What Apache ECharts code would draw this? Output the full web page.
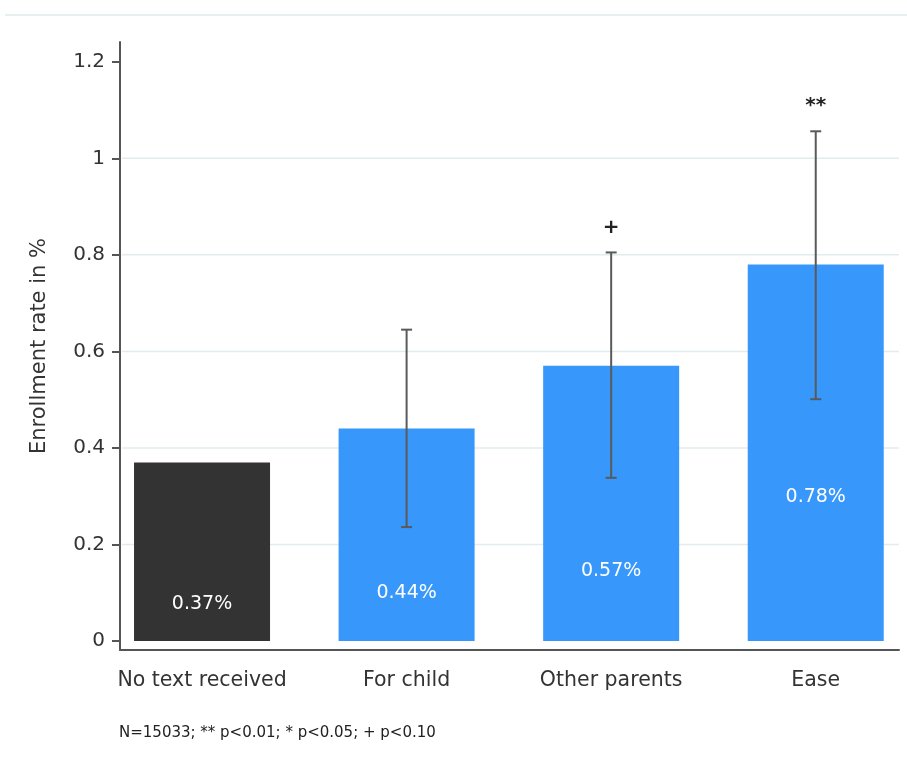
<!DOCTYPE html>
<html>
<head>
<meta charset="utf-8">
<script src="https://cdn.jsdelivr.net/npm/echarts@6/dist/echarts.min.js"></script>
<style>
  html, body { margin: 0; padding: 0; background: #ffffff; }
  #chart { width: 907px; height: 765px; }
</style>
</head>
<body>
<div id="chart"></div>
<script>
// Enrollment rate by text-message treatment, with 95% confidence intervals
const categories = ['No text received', 'For child', 'Other parents', 'Ease'];
const rates = [0.37, 0.44, 0.57, 0.78];
const ciLow = [null, 0.236, 0.338, 0.501];
const ciHigh = [null, 0.645, 0.805, 1.056];
const significance = ['', '', '+', '**'];
const yTicks = [0, 0.2, 0.4, 0.6, 0.8, 1, 1.2];
const gridValues = [0.2, 0.4, 0.6, 0.8, 1];
const yAxisTitle = 'Enrollment rate in %';
const note = 'N=15033; ** p<0.01; * p<0.05; + p<0.10';

// height (in axis units) where each in-bar value label sits
const valueLabelAt = [0.077, 0.1, 0.145, 0.298];

const FONT = '"DejaVu Sans", sans-serif';
const AXIS_COLOR = '#555555';
const TEXT_COLOR = '#333333';
const barColors = ['#333333', '#3797fb', '#3797fb', '#3797fb'];

const chart = echarts.init(document.getElementById('chart'), null, { renderer: 'canvas' });

const option = {
  backgroundColor: '#ffffff',
  animation: false,
  grid: { left: 120, right: 8, top: 42, bottom: 115, containLabel: false },
  xAxis: {
    type: 'value',
    min: -0.401,
    max: 3.407,
    axisLine: { show: true, onZero: false, lineStyle: { color: AXIS_COLOR, width: 2 } },
    axisTick: { show: false },
    splitLine: { show: false },
    axisLabel: {
      customValues: categories.map((_, i) => i),
      formatter: v => categories[v] || '',
      color: TEXT_COLOR,
      fontFamily: FONT,
      fontSize: 20.5,
      margin: 20
    }
  },
  yAxis: {
    type: 'value',
    min: -0.0187,
    max: 1.241,
    name: yAxisTitle,
    nameLocation: 'middle',
    nameRotate: 90,
    nameGap: 70,
    nameTextStyle: { color: TEXT_COLOR, fontFamily: FONT, fontSize: 21 },
    axisLine: { show: true, onZero: false, lineStyle: { color: AXIS_COLOR, width: 2 } },
    axisTick: { show: true, customValues: yTicks, length: 8, lineStyle: { color: AXIS_COLOR, width: 2 } },
    splitLine: { show: false },
    axisLabel: {
      customValues: yTicks,
      formatter: v => String(v),
      color: TEXT_COLOR,
      fontFamily: FONT,
      fontSize: 20,
      margin: 15
    }
  },
  series: [
    {
      // horizontal reference lines behind the bars
      type: 'custom',
      z: 1,
      silent: true,
      data: gridValues.map(v => [0, v]),
      renderItem: (params, api) => {
        const cs = params.coordSys;
        const y = api.coord([0, api.value(1)])[1];
        return {
          type: 'line',
          shape: { x1: cs.x + 2, y1: y, x2: cs.x + cs.width, y2: y },
          style: { stroke: '#e2ecee', lineWidth: 1.5 }
        };
      }
    },
    {
      type: 'bar',
      z: 2,
      barWidth: 136,
      data: rates.map((v, i) => ({ value: [i, v], itemStyle: { color: barColors[i] } }))
    },
    {
      // value labels inside the bars
      type: 'custom',
      z: 3,
      silent: true,
      data: rates.map((v, i) => [i, valueLabelAt[i], v]),
      renderItem: (params, api) => {
        const p = api.coord([api.value(0), api.value(1)]);
        return {
          type: 'text',
          style: {
            text: api.value(2).toFixed(2) + '%',
            x: p[0], y: p[1],
            align: 'center', verticalAlign: 'middle',
            fill: '#ffffff',
            font: '19px ' + FONT
          }
        };
      }
    },
    {
      // confidence interval whiskers and significance markers
      type: 'custom',
      z: 4,
      silent: true,
      data: categories.map((_, i) => i).filter(i => ciLow[i] != null)
        .map(i => [i, ciLow[i], ciHigh[i]]),
      renderItem: (params, api) => {
        const i = api.value(0);
        const lo = api.coord([i, api.value(1)]);
        const hi = api.coord([i, api.value(2)]);
        const cap = 5.5;
        const stroke = { stroke: '#5a5a5a', lineWidth: 2 };
        const children = [
          { type: 'line', shape: { x1: lo[0], y1: lo[1], x2: hi[0], y2: hi[1] }, style: stroke },
          { type: 'line', shape: { x1: lo[0] - cap, y1: lo[1], x2: lo[0] + cap, y2: lo[1] }, style: stroke },
          { type: 'line', shape: { x1: hi[0] - cap, y1: hi[1], x2: hi[0] + cap, y2: hi[1] }, style: stroke }
        ];
        if (significance[i]) {
          children.push({
            type: 'text',
            style: {
              text: significance[i],
              x: hi[0], y: hi[1] - 25,
              align: 'center', verticalAlign: 'middle',
              fill: '#222222',
              font: 'bold 20px ' + FONT
            }
          });
        }
        return { type: 'group', children };
      }
    }
  ],
  graphic: [
    {
      type: 'line',
      silent: true,
      shape: { x1: 5, y1: 15, x2: 907, y2: 15 },
      style: { stroke: '#e8eff1', lineWidth: 2 }
    },
    {
      type: 'text',
      left: 119,
      top: 726,
      style: { text: note, fill: '#222222', font: '15px ' + FONT }
    }
  ]
};

chart.setOption(option);
</script>
</body>
</html>
